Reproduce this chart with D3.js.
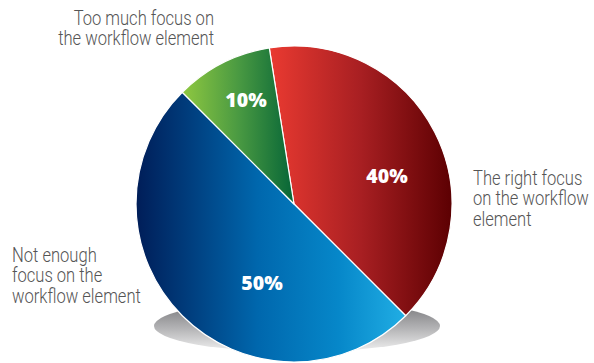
<!DOCTYPE html>
<html>
<head>
<meta charset="utf-8">
<script src="https://cdn.jsdelivr.net/npm/d3@7"></script>
<style>
  html, body { margin: 0; padding: 0; background: #ffffff; }
  svg { display: block; }
  .cat { font-family: "Roboto", sans-serif; font-weight: 300; font-size: 19.5px; fill: #555555; }
  .pct { font-family: "Open Sans", "DejaVu Sans", sans-serif; font-weight: 800; font-size: 19.5px; fill: #ffffff; }
</style>
</head>
<body>
<svg id="chart" width="594" height="363"></svg>
<script>
// Survey answers, clockwise starting with "The right focus"
const categories = ["The right focus on the workflow element",
                    "Not enough focus on the workflow element",
                    "Too much focus on the workflow element"];
const values = [40, 50, 10];
const valueLabels = ["40%", "50%", "10%"];
const categoryLines = [
  ["The right focus", "on the workflow", "element"],
  ["Not enough", "focus on the", "workflow element"],
  ["Too much focus on", "the workflow element"]
];
// Horizontal gradient stops (offset, colour) for each slice, left -> right
const gradientStops = [
  [[0, "#ea3a31"], [0.5, "#a81f22"], [1, "#5c0002"]],
  [[0, "#001d58"], [0.45, "#0067ad"], [0.75, "#0687c9"], [1, "#21aee4"]],
  [[0, "#8fc840"], [0.5, "#4a9a42"], [1, "#066537"]]
];

const svg = d3.select("#chart");
const cx = 294, cy = 204, radius = 158;

const defs = svg.append("defs");
gradientStops.forEach((stops, i) => {
  const g = defs.append("linearGradient")
    .attr("id", "grad" + i)
    .attr("x1", "0%").attr("x2", "100%").attr("y1", "0%").attr("y2", "0%");
  stops.forEach(([o, c]) => g.append("stop").attr("offset", o).attr("stop-color", c));
});

// Floor shadow under the pie
const shadowGrad = defs.append("linearGradient")
  .attr("id", "shadowGrad")
  .attr("x1", "0%").attr("x2", "0%").attr("y1", "0%").attr("y2", "100%");
shadowGrad.append("stop").attr("offset", "0%").attr("stop-color", "#6f6f72");
shadowGrad.append("stop").attr("offset", "55%").attr("stop-color", "#b4b4b6");
shadowGrad.append("stop").attr("offset", "100%").attr("stop-color", "#f1f1f1");

svg.append("ellipse")
  .attr("cx", 297).attr("cy", 326)
  .attr("rx", 143).attr("ry", 26)
  .attr("fill", "url(#shadowGrad)");

const pie = d3.pie()
  .sort(null)
  .value(d => d)
  .startAngle(-9 * Math.PI / 180)
  .endAngle(351 * Math.PI / 180);

const arc = d3.arc().innerRadius(0).outerRadius(radius);
const arcs = pie(values);

const g = svg.append("g").attr("transform", `translate(${cx},${cy})`);

g.selectAll("path.slice")
  .data(arcs)
  .join("path")
  .attr("class", "slice")
  .attr("d", arc)
  .attr("fill", (d, i) => `url(#grad${i})`)
  .attr("stroke", "#ffffff")
  .attr("stroke-width", 1.2)
  .attr("stroke-linejoin", "round");

// Percentage labels inside the slices, offset from the pie centre
const pctOffsets = [[93, -29], [-32, 78], [-48, -105]];
g.selectAll("text.pct")
  .data(arcs)
  .join("text")
  .attr("class", "pct")
  .attr("text-anchor", "middle")
  .attr("dominant-baseline", "central")
  .attr("x", (d, i) => pctOffsets[i][0])
  .attr("y", (d, i) => pctOffsets[i][1])
  .text((d, i) => valueLabels[i]);

// Category labels outside the pie, set in a condensed width
const labelLayout = [
  { x: 473, y: 185, anchor: "start" },
  { x: 12, y: 262, anchor: "start" },
  { x: 214, y: 25, anchor: "end" }
];
const lineHeight = 20.5;
const condense = 0.85;

categoryLines.forEach((lines, i) => {
  const lay = labelLayout[i];
  const t = svg.append("g")
    .attr("transform", `translate(${lay.x},${lay.y}) scale(${condense},1)`)
    .append("text")
    .attr("class", "cat")
    .attr("text-anchor", lay.anchor);
  t.append("title").text(categories[i]);
  lines.forEach((line, j) => {
    t.append("tspan")
      .attr("x", 0)
      .attr("y", j * lineHeight)
      .text(line);
  });
});
</script>
</body>
</html>
